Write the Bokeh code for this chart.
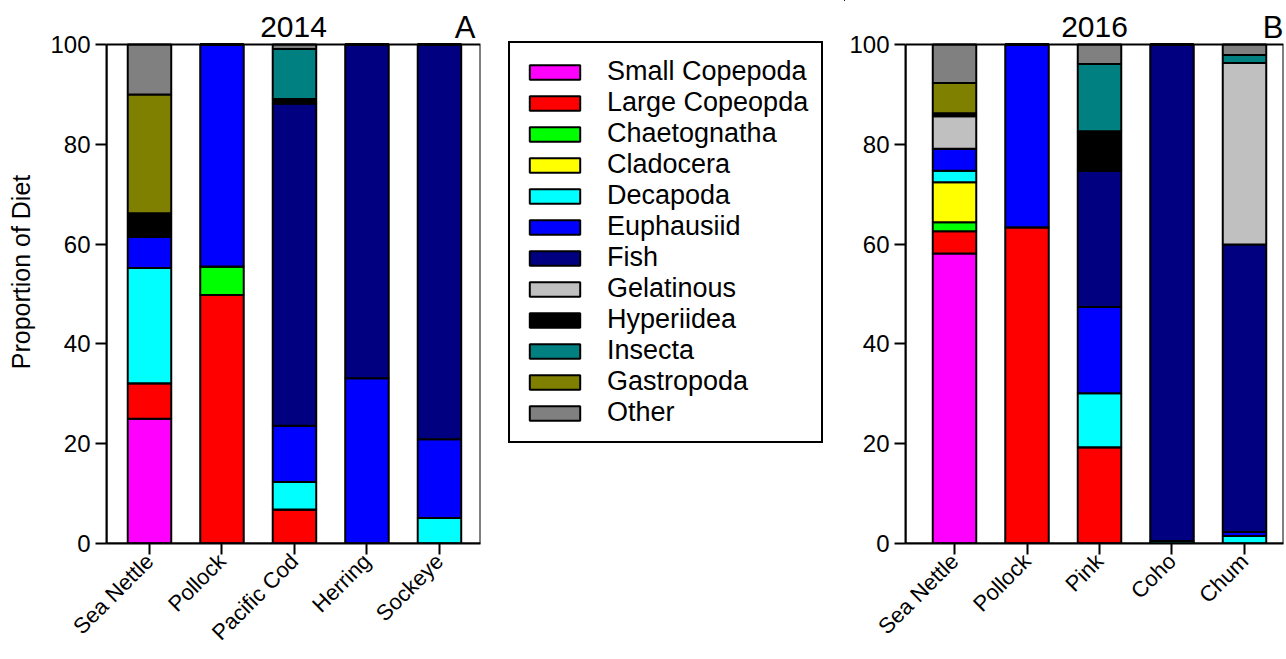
import math
from bokeh.plotting import figure
from bokeh.models import (ColumnDataSource, Range1d, FixedTicker, Legend, LegendItem,
                          Label, BoxAnnotation)
from bokeh.layouts import row
from bokeh.embed import file_html
from bokeh.resources import INLINE

# ---------------- data ----------------
prey = ["Small Copepoda", "Large Copeopda", "Chaetognatha", "Cladocera", "Decapoda",
        "Euphausiid", "Fish", "Gelatinous", "Hyperiidea", "Insecta", "Gastropoda", "Other"]
keys = ["small_cop", "large_cop", "chaet", "clad", "decap", "euph", "fish", "gel",
        "hyper", "insecta", "gastro", "other"]
colors = ["#FF00FF", "#FF0000", "#00FF00", "#FFFF00", "#00FFFF", "#0000FF", "#000080",
          "#C0C0C0", "#000000", "#008080", "#808000", "#808080"]

species_2014 = ["Sea Nettle", "Pollock", "Pacific Cod", "Herring", "Sockeye"]
small_cop_2014 = [25.0, 0.0, 0.0, 0.0, 0.0]
large_cop_2014 = [7.1, 49.8, 6.8, 0.0, 0.0]
chaet_2014 = [0.0, 5.7, 0.0, 0.0, 0.0]
clad_2014 = [0.0, 0.0, 0.0, 0.0, 0.0]
decap_2014 = [23.1, 0.0, 5.5, 0.0, 5.1]
euph_2014 = [6.2, 44.5, 11.3, 33.1, 15.8]
fish_2014 = [0.0, 0.0, 64.6, 66.9, 79.1]
gel_2014 = [0.0, 0.0, 0.0, 0.0, 0.0]
hyper_2014 = [4.8, 0.0, 0.9, 0.0, 0.0]
insecta_2014 = [0.0, 0.0, 10.0, 0.0, 0.0]
gastro_2014 = [23.8, 0.0, 0.0, 0.0, 0.0]
other_2014 = [10.0, 0.0, 0.9, 0.0, 0.0]

species_2016 = ["Sea Nettle", "Pollock", "Pink", "Coho", "Chum"]
small_cop_2016 = [58.1, 0.0, 0.0, 0.0, 0.0]
large_cop_2016 = [4.5, 63.4, 19.3, 0.0, 0.0]
chaet_2016 = [1.8, 0.0, 0.0, 0.0, 0.0]
clad_2016 = [8.0, 0.0, 0.0, 0.0, 0.0]
decap_2016 = [2.3, 0.0, 10.8, 0.5, 1.5]
euph_2016 = [4.4, 36.6, 17.3, 0.0, 0.8]
fish_2016 = [0.0, 0.0, 27.3, 99.5, 57.6]
gel_2016 = [6.5, 0.0, 0.0, 0.0, 36.4]
hyper_2016 = [0.6, 0.0, 7.9, 0.0, 0.0]
insecta_2016 = [0.0, 0.0, 13.5, 0.0, 1.6]
gastro_2016 = [6.1, 0.0, 0.0, 0.0, 0.0]
other_2016 = [7.7, 0.0, 3.9, 0.0, 2.1]

y_ticks = [0, 20, 40, 60, 80, 100]

FONT = "Liberation Sans"

src14 = ColumnDataSource(dict(
    x=list(range(1, len(species_2014) + 1)),
    small_cop=small_cop_2014, large_cop=large_cop_2014, chaet=chaet_2014, clad=clad_2014,
    decap=decap_2014, euph=euph_2014, fish=fish_2014, gel=gel_2014, hyper=hyper_2014,
    insecta=insecta_2014, gastro=gastro_2014, other=other_2014))
src16 = ColumnDataSource(dict(
    x=list(range(1, len(species_2016) + 1)),
    small_cop=small_cop_2016, large_cop=large_cop_2016, chaet=chaet_2016, clad=clad_2016,
    decap=decap_2016, euph=euph_2016, fish=fish_2016, gel=gel_2016, hyper=hyper_2016,
    insecta=insecta_2016, gastro=gastro_2016, other=other_2016))

H = 657
BOTTOM = H - 543
Y_TOP = 100 * 543 / 499   # frame extends above 100 to leave room for the panel titles
TITLE_Y = 103.5


def make_panel(src, species, year, letter, xr, width, min_left, min_right, ylabel, letter_pad):
    p = figure(width=width, height=H, output_backend="svg", toolbar_location=None,
               title=None,
               x_range=Range1d(*xr), y_range=Range1d(0, Y_TOP),
               min_border_left=min_left, min_border_right=min_right,
               min_border_top=0, min_border_bottom=BOTTOM)
    p.vbar_stack(keys, x="x", width=0.6, source=src, fill_color=colors,
                 line_color="black", line_width=2)
    p.xgrid.visible = False
    p.ygrid.visible = False
    p.outline_line_color = None
    # box around the 0-100 data area
    p.add_layout(BoxAnnotation(left=xr[0], right=xr[1], bottom=0, top=100,
                               fill_alpha=0, line_color="black", line_width=2,
                               line_alpha=1.0))

    ya = p.yaxis[0]
    ya.ticker = FixedTicker(ticks=y_ticks)
    ya.bounds = (0, 100)
    ya.major_label_text_font = FONT
    ya.major_label_text_font_size = "24px"
    ya.major_label_text_color = "black"
    ya.axis_line_width = 2
    ya.major_tick_line_width = 2
    ya.major_tick_out = 11
    ya.major_tick_in = 0
    ya.minor_tick_out = 0
    ya.minor_tick_in = 0
    ya.major_label_standoff = 5
    if ylabel:
        ya.axis_label = ylabel
        ya.axis_label_text_font = FONT
        ya.axis_label_text_font_size = "25px"
        ya.axis_label_text_font_style = "normal"
        ya.axis_label_text_color = "black"
        ya.axis_label_standoff = 12

    xa = p.xaxis[0]
    ticks = list(range(1, len(species) + 1))
    xa.ticker = FixedTicker(ticks=ticks)
    xa.major_label_overrides = {t: s for t, s in zip(ticks, species)}
    xa.major_label_orientation = math.pi / 4
    xa.major_label_text_font = FONT
    xa.major_label_text_font_size = "22px"
    xa.major_label_text_color = "black"
    xa.axis_line_width = 2
    xa.major_tick_line_width = 2
    xa.major_tick_out = 11
    xa.major_tick_in = 0
    xa.minor_tick_out = 0
    xa.minor_tick_in = 0
    xa.major_label_standoff = 3

    mid = (xr[0] + xr[1]) / 2
    p.add_layout(Label(x=mid, y=TITLE_Y, text=year, text_align="center",
                       text_baseline="alphabetic", text_font=FONT, text_font_size="30px",
                       text_color="black"))
    p.add_layout(Label(x=xr[1] - letter_pad, y=TITLE_Y, text=letter, text_align="right",
                       text_baseline="alphabetic", text_font=FONT, text_font_size="31px",
                       text_color="black"))
    return p


p1 = make_panel(src14, species_2014, "2014", "A", (0.407, 5.566), 495, 106, 15,
                "Proportion of Diet", 0.07)
p2 = make_panel(src16, species_2016, "2016", "B", (0.324, 5.538), 439, 60, 1, None, 0.0)

# legend figure (same top/bottom borders as the panels so the frames line up)
pl = figure(width=350, height=H, output_backend="svg", toolbar_location=None, title=None,
            x_axis_location=None, y_axis_location=None,
            x_range=Range1d(0, 1), y_range=Range1d(0, 1),
            min_border_left=0, min_border_right=0, min_border_top=0, min_border_bottom=BOTTOM)
pl.xgrid.visible = False
pl.ygrid.visible = False
pl.outline_line_color = None
items = []
for name, col in zip(prey, colors):
    r = pl.vbar(x=[5], top=[5], bottom=[4], width=0.5, fill_color=col,
                line_color="black", line_width=2)
    items.append(LegendItem(label=name, renderers=[r]))
leg = Legend(items=items, location=(13, 100), margin=0, padding=13, spacing=-1,
             glyph_width=63, glyph_height=18, label_standoff=21,
             label_text_font=FONT, label_text_font_size="27px", label_text_color="black",
             border_line_color="black", border_line_width=2, border_line_alpha=1.0,
             background_fill_color="white", background_fill_alpha=1.0)
pl.add_layout(leg, "center")

layout = row(p1, pl, p2, spacing=0)
open("out.html", "w").write(file_html(layout, INLINE))
